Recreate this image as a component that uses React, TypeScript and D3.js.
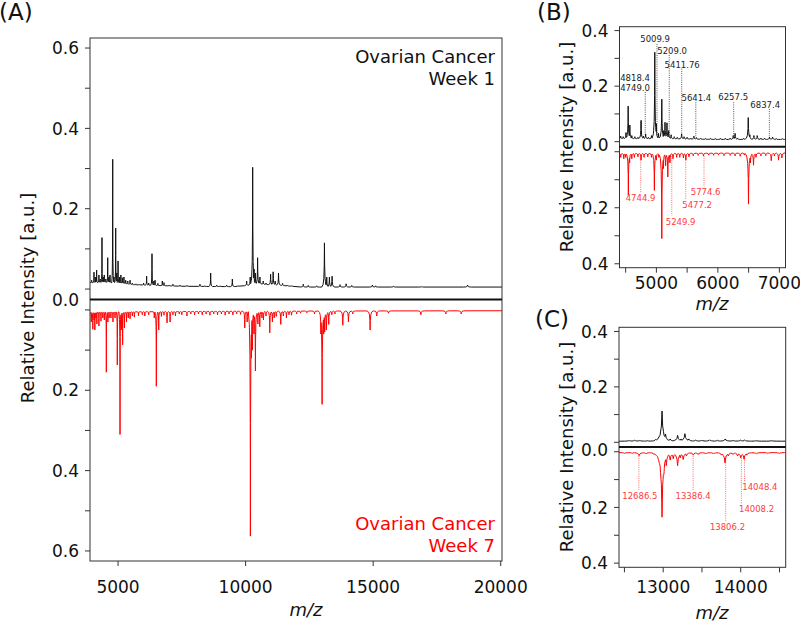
import React from "react";
import * as d3 from "d3";

type P = [number, number];

// ---------------- DATA ----------------
// Panel A – Week 1 (upward, black)
const week1BaseA: P[] = [
  [3900, 0.016], [4500, 0.017], [5200, 0.014], [5600, 0.011], [6500, 0.009], [7500, 0.007],
  [9500, 0.006], [10100, 0.009], [10600, 0.012], [11400, 0.009], [12200, 0.005], [14000, 0.005], [20050, 0.005],
];
const week1PeaksA: P[] = [
  [3966, 0.022], [4056, 0.042], [4110, 0.03], [4160, 0.047], [4250, 0.035], [4300, 0.025], [4370, 0.128],
  [4420, 0.03], [4460, 0.035], [4520, 0.025], [4594, 0.078], [4640, 0.03], [4684, 0.035], [4790, 0.323],
  [4840, 0.03], [4907, 0.152], [4950, 0.04], [5000, 0.07], [5060, 0.03], [5110, 0.035], [5170, 0.028],
  [5230, 0.03], [5300, 0.022], [5380, 0.02], [5470, 0.022], [5560, 0.015], [5700, 0.013], [5850, 0.012],
  [6000, 0.015], [6120, 0.032], [6200, 0.015], [6330, 0.088], [6400, 0.02], [6450, 0.022], [6560, 0.014],
  [6735, 0.02], [6800, 0.016], [7000, 0.01], [7150, 0.012], [7430, 0.01], [7700, 0.009], [8210, 0.012],
  [8400, 0.008], [8630, 0.04], [8865, 0.01], [9000, 0.008], [9255, 0.01], [9480, 0.025], [9700, 0.008],
  [10040, 0.02], [10180, 0.03], [10277, 0.303], [10330, 0.05], [10380, 0.04], [10470, 0.078], [10560, 0.03],
  [10690, 0.02], [10800, 0.015], [10980, 0.037], [11080, 0.043], [11160, 0.02], [11290, 0.04], [11450, 0.014],
  [11630, 0.01], [11800, 0.008], [12260, 0.012], [12455, 0.009], [12790, 0.008], [13090, 0.115], [13180, 0.03],
  [13285, 0.03], [13390, 0.032], [13700, 0.011], [13940, 0.013], [14160, 0.009], [14970, 0.01], [15100, 0.008],
  [15800, 0.007], [16900, 0.006], [18700, 0.01],
];
// Panel A – Week 7 (downward, red)
const week7BaseA: P[] = [[3900, 0.006], [5000, 0.005], [10000, 0.003], [20050, 0.002]];
const week7PeaksA: P[] = [
  [3950, 0.03], [3990, 0.02], [4010, 0.048], [4060, 0.025], [4090, 0.05], [4130, 0.02], [4170, 0.035],
  [4250, 0.04], [4330, 0.028], [4400, 0.02], [4460, 0.025], [4540, 0.155], [4600, 0.03], [4650, 0.02],
  [4720, 0.02], [4800, 0.03], [4880, 0.02], [4970, 0.137], [5077, 0.31], [5130, 0.05], [5180, 0.087],
  [5250, 0.045], [5330, 0.03], [5400, 0.02], [5470, 0.022], [5560, 0.015], [5640, 0.018], [5800, 0.015],
  [5950, 0.012], [6050, 0.015], [6200, 0.012], [6420, 0.02], [6500, 0.19], [6595, 0.05], [6700, 0.016],
  [6800, 0.013], [6920, 0.032], [7040, 0.03], [7150, 0.012], [7250, 0.015], [7400, 0.01], [7500, 0.012],
  [7700, 0.015], [7850, 0.01], [8000, 0.012], [8150, 0.01], [8300, 0.012], [8450, 0.01], [8600, 0.013],
  [8750, 0.01], [8900, 0.012], [9050, 0.01], [9200, 0.013], [9350, 0.01], [9500, 0.012], [9650, 0.01],
  [9800, 0.011], [9966, 0.045], [10060, 0.03], [10187, 0.563], [10230, 0.12], [10266, 0.1], [10330, 0.06],
  [10384, 0.152], [10480, 0.035], [10555, 0.042], [10640, 0.02], [10700, 0.025], [10800, 0.015], [10947, 0.057],
  [11050, 0.03], [11120, 0.02], [11200, 0.016], [11378, 0.036], [11480, 0.015], [11600, 0.02], [11700, 0.012],
  [11800, 0.013], [12000, 0.01], [12150, 0.008], [12400, 0.007], [12700, 0.01], [12950, 0.06], [12998, 0.235],
  [13060, 0.06], [13100, 0.055], [13167, 0.05], [13260, 0.036], [13380, 0.012], [13500, 0.01], [13810, 0.038],
  [14030, 0.03], [14200, 0.01], [14880, 0.05], [15140, 0.015], [15600, 0.008], [16870, 0.012], [17850, 0.01],
  [18450, 0.01],
];

// Panel B – zoom 4400–7100
const week1BaseB: P[] = [[4400, 0.011], [5300, 0.01], [6000, 0.008], [7100, 0.008]];
const week1PeaksB: P[] = [
  [4420, 0.02], [4460, 0.018], [4505, 0.033], [4541, 0.128], [4568, 0.06], [4600, 0.022], [4650, 0.018],
  [4700, 0.016], [4751, 0.077], [4790, 0.02], [4825, 0.028], [4870, 0.016], [4920, 0.022], [4974, 0.322],
  [5000, 0.065], [5035, 0.03], [5088, 0.153], [5120, 0.04], [5140, 0.07], [5172, 0.068], [5200, 0.04],
  [5240, 0.025], [5290, 0.018], [5340, 0.016], [5410, 0.028], [5450, 0.018], [5500, 0.016], [5560, 0.013],
  [5610, 0.02], [5650, 0.015], [5720, 0.012], [5800, 0.011], [5880, 0.012], [5960, 0.011], [6040, 0.012],
  [6120, 0.012], [6200, 0.013], [6250, 0.022], [6280, 0.03], [6320, 0.013], [6420, 0.012], [6494, 0.087],
  [6520, 0.025], [6586, 0.022], [6640, 0.022], [6700, 0.013], [6760, 0.012], [6840, 0.017], [6890, 0.017],
  [6950, 0.011], [7050, 0.011],
];
const week7BaseB: P[] = [[4400, 0.006], [7100, 0.004]];
const week7PeaksB: P[] = [
  [4420, 0.02], [4470, 0.025], [4500, 0.02], [4544, 0.156], [4565, 0.04], [4600, 0.025], [4642, 0.02],
  [4700, 0.018], [4751, 0.03], [4800, 0.02], [4860, 0.018], [4920, 0.02], [4967, 0.138], [5000, 0.03],
  [5040, 0.02], [5088, 0.31], [5115, 0.06], [5150, 0.05], [5186, 0.09], [5220, 0.04], [5270, 0.025],
  [5330, 0.02], [5380, 0.02], [5440, 0.022], [5479, 0.03], [5530, 0.018], [5600, 0.015], [5680, 0.013],
  [5766, 0.015], [5850, 0.012], [5930, 0.013], [6010, 0.012], [6100, 0.014], [6200, 0.013], [6280, 0.015],
  [6363, 0.016], [6430, 0.012], [6498, 0.187], [6530, 0.04], [6580, 0.048], [6620, 0.02], [6700, 0.015],
  [6780, 0.014], [6868, 0.032], [6920, 0.015], [6987, 0.03], [7042, 0.022],
];

// Panel C – zoom 12430–14580
const week1BaseC: P[] = [[12400, 0.004], [14600, 0.004]];
const week1PeaksC: P[] = [
  [12560, 0.007], [12634, 0.008], [12700, 0.007], [12800, 0.006], [12900, 0.01], [12985, 0.113], [13030, 0.03],
  [13090, 0.012], [13186, 0.025], [13230, 0.012], [13280, 0.031], [13330, 0.012], [13420, 0.008], [13500, 0.008],
  [13600, 0.009], [13700, 0.007], [13800, 0.012], [13900, 0.007], [14000, 0.008], [14050, 0.008], [14200, 0.006],
  [14400, 0.006],
];
const week7BaseC: P[] = [[12400, 0.003], [14600, 0.003]];
const week7PeaksC: P[] = [
  [12500, 0.006], [12600, 0.006], [12690, 0.014], [12780, 0.008], [12880, 0.01], [12940, 0.02], [12985, 0.235],
  [13010, 0.08], [13040, 0.05], [13090, 0.03], [13130, 0.025], [13186, 0.05], [13220, 0.022], [13258, 0.028],
  [13300, 0.015], [13388, 0.012], [13450, 0.01], [13550, 0.008], [13650, 0.008], [13750, 0.012], [13797, 0.04],
  [13840, 0.015], [13900, 0.01], [13960, 0.015], [14000, 0.022], [14043, 0.027], [14080, 0.012], [14200, 0.008],
  [14350, 0.006], [14500, 0.006],
];

// Annotations (mz of peak, label centre mz, label centre intensity, line end intensity)
const annoBTop = [
  { text: "5009.9", mz: 5009.9, lx: 4979, ly: 0.37, end: 0.352 },
  { text: "5209.0", mz: 5209.0, lx: 5256, ly: 0.326, end: 0.312 },
  { text: "5411.76", mz: 5411.76, lx: 5419, ly: 0.278, end: 0.263 },
  { text: "4818.4", mz: 4818.4, lx: 4653, ly: 0.23, end: 0.179 },
  { text: "4749.0", mz: 4749.0, lx: 4653, ly: 0.193, end: 0.07 },
  { text: "5641.4", mz: 5641.4, lx: 5650, ly: 0.157, end: 0.142 },
  { text: "6257.5", mz: 6257.5, lx: 6249, ly: 0.161, end: 0.142 },
  { text: "6837.4", mz: 6837.4, lx: 6770, ly: 0.131, end: 0.118 },
];
const annoBBottom = [
  { text: "4744.9", mz: 4744.9, lx: 4743, ly: 0.165, end: 0.145 },
  { text: "5249.9", mz: 5249.9, lx: 5394, ly: 0.25, end: 0.228 },
  { text: "5477.2", mz: 5477.2, lx: 5663, ly: 0.19, end: 0.169 },
  { text: "5774.6", mz: 5774.6, lx: 5801, ly: 0.145, end: 0.127 },
];
const annoCBottom = [
  { text: "12686.5", mz: 12686.5, lx: 12699, ly: 0.16, end: 0.142 },
  { text: "13386.4", mz: 13386.4, lx: 13386, ly: 0.16, end: 0.14 },
  { text: "13806.2", mz: 13806.2, lx: 13829, ly: 0.269, end: 0.25 },
  { text: "14008.2", mz: 14008.2, lx: 14204, ly: 0.206, end: 0.187 },
  { text: "14048.4", mz: 14048.4, lx: 14247, ly: 0.128, end: 0.107 },
];

const xTicksA = [5000, 10000, 15000, 20000];
const yTicksA = [0, 0.1, 0.2, 0.3, 0.4, 0.5, 0.6];
const yLabelsA = [0.2, 0.4, 0.6];
const xTicksB = [4500, 5000, 5500, 6000, 6500, 7000];
const xLabelsB = [5000, 6000, 7000];
const xTicksC = [12500, 13000, 13500, 14000, 14500];
const xLabelsC = [13000, 14000];
const yTicksBC = [0, 0.1, 0.2, 0.3, 0.4];
const yLabelsBC = [0.2, 0.4];

// ---------------- RENDERING ----------------
const FONT = "DejaVu Sans, Verdana, sans-serif";
const BLACK = "#111";
const RED = "#ff0000";
const ANNO_RED = "#ff3b3b";

// peak profile (relative position -> relative height), a sharp cusp with tails
const PROFILE: P[] = [[0, 1], [0.07, 0.5], [0.22, 0.2], [0.5, 0.06], [1, 0]];
const profile = d3.scaleLinear().domain(PROFILE.map((d) => d[0])).range(PROFILE.map((d) => d[1])).clamp(true);

function spectrum(base: P[], peaks: P[], domain: [number, number], wf: number): P[] {
  const b = d3.scaleLinear().domain(base.map((d) => d[0])).range(base.map((d) => d[1])).clamp(true);
  const xs = new Set<number>();
  base.forEach((d) => xs.add(d[0]));
  xs.add(domain[0]);
  xs.add(domain[1]);
  peaks.forEach(([m]) => {
    const w = m * wf;
    PROFILE.forEach(([k]) => {
      xs.add(m + k * w);
      xs.add(m - k * w);
    });
  });
  const arr = Array.from(xs)
    .filter((x) => x >= domain[0] && x <= domain[1])
    .sort((a, c) => a - c);
  return arr.map((x) => {
    const b0 = b(x);
    let v = 0;
    for (const [m, h] of peaks) {
      const w = m * wf;
      const t = Math.abs(x - m) / w;
      if (t >= 1) continue;
      v = Math.max(v, (h - b(m)) * profile(t));
    }
    return [x, b0 + v] as P;
  });
}

type Anno = { text: string; mz: number; lx: number; ly: number; end: number };

type PanelCfg = {
  id: string;
  x0: number; x1: number; yTop: number; yMid: number; yBot: number;
  xDomain: [number, number]; yDomain: [number, number];
  xTicks: number[]; xLabels: number[]; yTicks: number[]; yLabels: number[];
  top: P[]; bottom: P[]; wf: number;
  topBase: P[]; bottomBase: P[];
  annoTop: Anno[]; annoBottom: Anno[];
  zeroDy: number; xLabelBaseline: number;
};

function Panel({ c }: { c: PanelCfg }) {
  const x = d3.scaleLinear().domain(c.xDomain).range([c.x0, c.x1]);
  const yT = d3.scaleLinear().domain(c.yDomain).range([c.yMid, c.yTop]);
  const yB = d3.scaleLinear().domain(c.yDomain).range([c.yMid, c.yBot]);
  const topPts = spectrum(c.topBase, c.top, c.xDomain, c.wf);
  const botPts = spectrum(c.bottomBase, c.bottom, c.xDomain, c.wf);
  const lineT = d3.line<P>().x((d) => x(d[0])).y((d) => yT(d[1]));
  const lineB = d3.line<P>().x((d) => x(d[0])).y((d) => yB(d[1]));
  const fmt = d3.format(".1f");
  const fmtX = d3.format("d");
  return (
    <g>
      <defs>
        <clipPath id={`clipT${c.id}`}>
          <rect x={c.x0} y={c.yTop} width={c.x1 - c.x0} height={c.yMid - c.yTop} />
        </clipPath>
        <clipPath id={`clipB${c.id}`}>
          <rect x={c.x0} y={c.yMid} width={c.x1 - c.x0} height={c.yBot - c.yMid} />
        </clipPath>
      </defs>
      {c.annoTop.map((a, i) => (
        <line key={"at" + i} x1={x(a.mz)} x2={x(a.mz)} y1={yT(a.end)} y2={yT(0.02)}
          stroke="#444" strokeWidth={0.9} strokeDasharray="1,1.2" />
      ))}
      {c.annoBottom.map((a, i) => (
        <line key={"ab" + i} x1={x(a.mz)} x2={x(a.mz)} y1={yB(0.015)} y2={yB(a.end)}
          stroke="#ff5a5a" strokeWidth={0.9} strokeDasharray="1,1.2" />
      ))}
      <path d={lineT(topPts) || ""} fill="none" stroke={BLACK} strokeWidth={1} strokeLinejoin="round" clipPath={`url(#clipT${c.id})`} />
      <path d={lineB(botPts) || ""} fill="none" stroke={RED} strokeWidth={1} strokeLinejoin="round" clipPath={`url(#clipB${c.id})`} />
      {c.annoTop.map((a, i) => (
        <text key={"tt" + i} x={x(a.lx)} y={yT(a.ly)} dy="0.36em" textAnchor="middle"
          fontFamily={FONT} fontSize={8.5} fill="#222">{a.text}</text>
      ))}
      {c.annoBottom.map((a, i) => (
        <text key={"tb" + i} x={x(a.lx)} y={yB(a.ly)} dy="0.36em" textAnchor="middle"
          fontFamily={FONT} fontSize={8.5} fill={ANNO_RED}>{a.text}</text>
      ))}
      <rect x={c.x0} y={c.yTop} width={c.x1 - c.x0} height={c.yBot - c.yTop} fill="none" stroke="#333" strokeWidth={1} />
      <line x1={c.x0} x2={c.x1} y1={c.yMid} y2={c.yMid} stroke="#111" strokeWidth={2} />
      {c.yTicks.map((t) => (
        <g key={"yt" + t}>
          <line x1={c.x0 - 5} x2={c.x0} y1={yT(t)} y2={yT(t)} stroke="#333" strokeWidth={1} />
          <line x1={c.x0 - 5} x2={c.x0} y1={yB(t)} y2={yB(t)} stroke="#333" strokeWidth={1} />
        </g>
      ))}
      {c.yLabels.map((t) => (
        <g key={"yl" + t}>
          <text x={c.x0 - 11} y={yT(t)} dy="0.36em" textAnchor="end" fontFamily={FONT} fontSize={17} fill="#111">{fmt(t)}</text>
          <text x={c.x0 - 11} y={yB(t)} dy="0.36em" textAnchor="end" fontFamily={FONT} fontSize={17} fill="#111">{fmt(t)}</text>
        </g>
      ))}
      <text x={c.x0 - 11} y={c.yMid + c.zeroDy} dy="0.36em" textAnchor="end" fontFamily={FONT} fontSize={17} fill="#111">{fmt(0)}</text>
      {c.xTicks.map((t) => (
        <line key={"xt" + t} x1={x(t)} x2={x(t)} y1={c.yBot} y2={c.yBot + 5} stroke="#333" strokeWidth={1} />
      ))}
      {c.xLabels.map((t) => (
        <text key={"xl" + t} x={x(t)} y={c.xLabelBaseline} textAnchor="middle" fontFamily={FONT} fontSize={17} fill="#111">{fmtX(t)}</text>
      ))}
    </g>
  );
}

export default function App() {
  const A: PanelCfg = {
    id: "A", x0: 90, x1: 502, yTop: 38, yMid: 299.5, yBot: 561,
    xDomain: [3900, 20050], yDomain: [-0.026, 0.625],
    xTicks: xTicksA, xLabels: xTicksA, yTicks: yTicksA, yLabels: yLabelsA,
    top: week1PeaksA, bottom: week7PeaksA, topBase: week1BaseA, bottomBase: week7BaseA, wf: 0.008,
    annoTop: [], annoBottom: [], zeroDy: 0.5, xLabelBaseline: 593,
  };
  const B: PanelCfg = {
    id: "B", x0: 619.5, x1: 785.5, yTop: 26.7, yMid: 146.7, yBot: 267.7,
    xDomain: [4400, 7100], yDomain: [-0.018, 0.414],
    xTicks: xTicksB, xLabels: xLabelsB, yTicks: yTicksBC, yLabels: yLabelsBC,
    top: week1PeaksB, bottom: week7PeaksB, topBase: week1BaseB, bottomBase: week7BaseB, wf: 0.009,
    annoTop: annoBTop, annoBottom: annoBBottom, zeroDy: -2.3, xLabelBaseline: 288.5,
  };
  const C: PanelCfg = {
    id: "C", x0: 619, x1: 785.7, yTop: 327.3, yMid: 447, yBot: 567.3,
    xDomain: [12430, 14580], yDomain: [-0.017, 0.415],
    xTicks: xTicksC, xLabels: xLabelsC, yTicks: yTicksBC, yLabels: yLabelsBC,
    top: week1PeaksC, bottom: week7PeaksC, topBase: week1BaseC, bottomBase: week7BaseC, wf: 0.009,
    annoTop: [], annoBottom: annoCBottom, zeroDy: 3, xLabelBaseline: 592.5,
  };
  const ylab = "Relative Intensity [a.u.]";
  return (
    <svg width={800} height={622} style={{ position: "absolute", left: 0, top: 0, background: "#fff" }}
      xmlns="http://www.w3.org/2000/svg">
      <rect x={0} y={0} width={800} height={622} fill="#fff" />
      <Panel c={A} />
      <Panel c={B} />
      <Panel c={C} />
      <text x={-1} y={20} fontFamily={FONT} fontSize={23} fill="#111">(A)</text>
      <text x={537} y={20} fontFamily={FONT} fontSize={23} fill="#111">(B)</text>
      <text x={535} y={327} fontFamily={FONT} fontSize={23} fill="#111">(C)</text>
      <text transform="translate(28,298) rotate(-90)" dy="0.36em" textAnchor="middle" fontFamily={FONT} fontSize={18} fill="#111">{ylab}</text>
      <text transform="translate(567,147) rotate(-90)" dy="0.36em" textAnchor="middle" fontFamily={FONT} fontSize={18} fill="#111">{ylab}</text>
      <text transform="translate(567,447) rotate(-90)" dy="0.36em" textAnchor="middle" fontFamily={FONT} fontSize={18} fill="#111">{ylab}</text>
      <text x={306} y={616} textAnchor="middle" fontFamily={FONT} fontSize={18} fontStyle="italic" fill="#111">m/z</text>
      <text x={712} y={310} textAnchor="middle" fontFamily={FONT} fontSize={18} fontStyle="italic" fill="#111">m/z</text>
      <text x={712} y={619} textAnchor="middle" fontFamily={FONT} fontSize={18} fontStyle="italic" fill="#111">m/z</text>
      <text x={495} y={62.5} textAnchor="end" fontFamily={FONT} fontSize={18} fill="#111">Ovarian Cancer</text>
      <text x={495} y={84.5} textAnchor="end" fontFamily={FONT} fontSize={18} fill="#111">Week 1</text>
      <text x={495} y={530} textAnchor="end" fontFamily={FONT} fontSize={18} fill={RED}>Ovarian Cancer</text>
      <text x={495} y={552} textAnchor="end" fontFamily={FONT} fontSize={18} fill={RED}>Week 7</text>
    </svg>
  );
}
